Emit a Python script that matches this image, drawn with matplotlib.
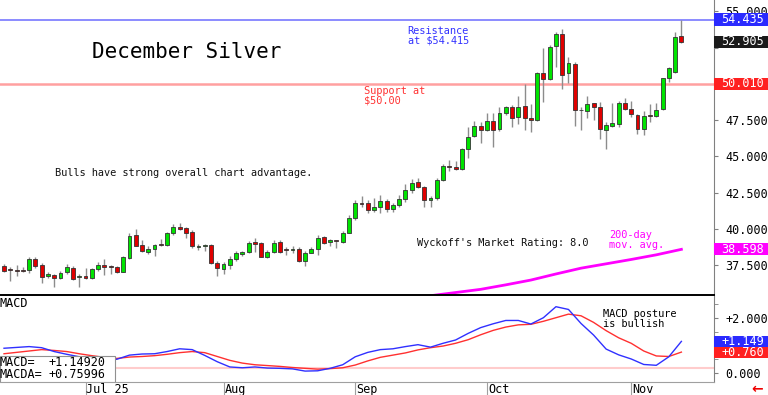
import matplotlib
matplotlib.use("Agg")
import matplotlib.pyplot as plt
import matplotlib.transforms as mtransforms
from matplotlib.patches import Rectangle
import numpy as np

plt.rcParams['font.family'] = ['DejaVu Sans Mono', 'DejaVu Sans']

#################################################################

## Data (daily bars mid-June .. Nov 13)

opens = [37.45, 37.25, 37.17, 37.17, 37.17, 37.95, 37.54, 36.76, 36.83, 36.65,
         37.01, 37.31, 36.67, 36.76, 36.65, 37.22, 37.52, 37.42, 37.38, 37.06,
         38.02, 39.59, 38.90, 38.44, 38.60, 38.96, 38.88, 39.70, 40.16, 40.07,
         39.79, 38.74, 38.84, 38.90, 37.68, 37.24, 37.54, 37.91, 38.30, 38.44,
         39.13, 39.06, 38.05, 38.44, 39.13, 38.62, 38.54, 38.60, 37.81, 38.37,
         38.60, 39.47, 39.10, 39.22, 39.13, 39.75, 40.78, 41.79, 41.82, 41.31,
         41.54, 41.95, 41.36, 41.64, 42.05, 42.69, 43.22, 42.92, 42.00, 42.16,
         43.38, 44.32, 44.30, 44.12, 45.50, 46.41, 47.13, 46.83, 47.45, 46.88,
         47.98, 48.39, 47.70, 48.48, 47.66, 47.52, 50.78, 50.32, 52.62, 53.45,
         50.74, 51.38, 48.18, 48.16, 48.67, 48.39, 46.85, 47.12, 47.24, 48.71,
         48.26, 47.86, 46.90, 47.83, 47.81, 48.28, 50.44, 50.85, 53.31]
highs = [37.57, 37.40, 37.52, 37.36, 38.09, 38.09, 37.63, 37.06, 36.90, 37.10,
         37.57, 37.45, 36.88, 37.29, 37.29, 37.70, 37.93, 37.52, 37.45, 38.16,
         39.70, 40.00, 39.22, 38.81, 38.94, 39.33, 39.81, 40.32, 40.39, 40.12,
         39.95, 38.94, 38.97, 38.94, 37.79, 37.70, 38.12, 38.48, 38.50, 39.17,
         39.36, 39.13, 38.55, 39.24, 39.24, 38.74, 38.83, 38.74, 38.51, 38.74,
         39.59, 39.52, 39.33, 39.24, 39.89, 40.97, 42.00, 42.30, 42.00, 42.12,
         42.34, 42.05, 41.77, 42.34, 43.10, 43.42, 43.49, 42.97, 42.28, 43.50,
         44.46, 44.78, 44.69, 45.56, 47.06, 47.45, 47.40, 47.98, 48.02, 48.44,
         48.48, 48.55, 49.17, 50.00, 48.62, 50.85, 52.50, 52.69, 53.61, 53.77,
         51.84, 51.54, 48.44, 49.17, 48.71, 48.78, 47.40, 48.71, 48.85, 49.01,
         48.85, 47.93, 48.14, 48.60, 48.67, 50.44, 51.20, 53.61, 54.435]
lows = [37.01, 36.44, 36.76, 37.01, 36.94, 37.33, 36.30, 36.62, 35.98, 36.53,
        36.92, 36.46, 36.03, 36.53, 36.53, 37.12, 36.81, 36.88, 36.94, 37.01,
        37.91, 38.81, 38.39, 38.26, 38.16, 38.81, 38.83, 39.56, 39.93, 39.40,
        38.67, 38.55, 38.51, 37.60, 36.76, 36.90, 37.24, 37.81, 38.12, 38.32,
        38.44, 38.05, 37.98, 38.37, 38.37, 38.21, 38.32, 37.74, 37.45, 38.32,
        38.21, 38.94, 38.83, 38.67, 39.06, 39.70, 40.62, 41.54, 41.08, 41.20,
        41.08, 41.20, 41.20, 41.54, 41.88, 42.46, 42.81, 41.50, 41.50, 42.00,
        43.33, 43.97, 44.07, 44.07, 44.88, 46.32, 45.95, 46.78, 45.68, 46.78,
        47.86, 47.01, 47.24, 46.80, 46.71, 47.45, 48.74, 50.28, 51.20, 49.63,
        50.09, 47.10, 46.83, 47.63, 47.52, 46.20, 45.50, 47.06, 47.06, 48.21,
        47.74, 46.55, 46.48, 47.41, 47.74, 48.21, 50.16, 50.74, 52.81]
closes = [37.12, 37.20, 37.08, 37.13, 37.95, 37.47, 36.71, 36.90, 36.65, 36.99,
          37.36, 36.55, 36.76, 36.65, 37.24, 37.50, 37.40, 37.38, 37.06, 38.07,
          39.54, 38.85, 38.48, 38.64, 38.90, 38.92, 39.72, 40.16, 40.02, 39.74,
          38.81, 38.85, 38.86, 37.66, 37.29, 37.59, 37.95, 38.32, 38.44, 39.01,
          38.99, 38.09, 38.44, 39.06, 38.44, 38.58, 38.56, 37.79, 38.37, 38.65,
          39.40, 39.01, 39.24, 39.18, 39.75, 40.78, 41.77, 41.75, 41.31, 41.54,
          41.95, 41.36, 41.66, 42.05, 42.69, 43.19, 42.88, 42.00, 42.16, 43.38,
          44.34, 44.28, 44.12, 45.50, 46.37, 47.10, 46.83, 47.45, 46.83, 47.98,
          48.39, 47.63, 48.39, 47.63, 47.52, 50.78, 50.32, 52.53, 53.45, 50.62,
          51.43, 48.21, 48.22, 48.62, 48.39, 46.88, 47.15, 47.29, 48.71, 48.26,
          47.91, 46.88, 47.81, 47.79, 48.21, 50.39, 51.08, 53.22, 52.905]

# 200-day moving average (only the visible part)
ma_idx = [68, 72, 76, 80, 84, 88, 92, 96, 100, 104, 108]
ma_vals = [35.40, 35.62, 35.84, 36.15, 36.48, 36.90, 37.30, 37.60, 37.90, 38.22, 38.598]

# MACD, every second bar
macd_idx = list(range(0, 109, 2))
macd_line = [0.90, 0.93, 0.96, 0.92, 0.78, 0.68, 0.59, 0.53, 0.47, 0.50,
             0.65, 0.69, 0.70, 0.78, 0.88, 0.85, 0.64, 0.41, 0.22, 0.19,
             0.22, 0.18, 0.17, 0.15, 0.07, 0.08, 0.17, 0.30, 0.59, 0.75,
             0.85, 0.88, 0.96, 1.03, 0.94, 1.08, 1.20, 1.44, 1.65, 1.79,
             1.91, 1.91, 1.78, 2.01, 2.41, 2.31, 1.80, 1.38, 0.87, 0.66,
             0.51, 0.31, 0.28, 0.59, 1.149]
macd_avg = [0.70, 0.75, 0.80, 0.85, 0.82, 0.78, 0.70, 0.63, 0.57, 0.53,
            0.58, 0.60, 0.63, 0.68, 0.74, 0.78, 0.74, 0.60, 0.46, 0.36,
            0.30, 0.27, 0.24, 0.20, 0.17, 0.14, 0.16, 0.19, 0.29, 0.44,
            0.57, 0.65, 0.73, 0.84, 0.92, 0.98, 1.08, 1.21, 1.39, 1.55,
            1.67, 1.75, 1.77, 1.88, 2.01, 2.14, 2.08, 1.84, 1.54, 1.28,
            1.08, 0.80, 0.62, 0.60, 0.76]

month_ticks = [13, 35, 56, 77, 100]
month_labels = ["Jul 25", "Aug", "Sep", "Oct", "Nov"]

price_ticks = [37.5, 40.0, 42.5, 45.0, 47.5, 50.0, 52.5, 55.0]
hidden_ticks = [50.0, 52.5]   # covered by the value tags on the original

resistance = 54.435
support = 50.010
last_close = 52.905
ma_last = 38.598
macd_last = 1.14920
macda_last = 0.75996
macd_ref = 0.17

################################################################

## Figure layout (pixel based, 768 x 395)

W, H = 768, 395
fig = plt.figure(figsize=(W / 100, H / 100), dpi=100)
fig.patch.set_facecolor('white')

ax = fig.add_axes([0, 100 / H, 714 / W, 295 / H])
ax2 = fig.add_axes([0, 13.3 / H, 714 / W, 86 / H])

xlim = (-0.64, 113.2)

# Candles
idx = np.arange(len(closes))
o = np.array(opens)
c = np.array(closes)
up = c >= o
ax.vlines(idx, lows, highs, color='#8c8c8c', lw=1, zorder=2)
body_lo = np.minimum(o, c)
body_h = np.maximum(np.abs(c - o), 0.05)
colors = np.where(up, '#00e400', '#e00000')
ax.bar(idx, body_h, bottom=body_lo, width=0.62, color=colors,
       edgecolor='#333333', linewidth=0.6, zorder=3)

# Support / resistance, moving average
ax.axhline(resistance, color='#7878ff', lw=1.2, zorder=1)
ax.axhline(support, color='#ffa0a0', lw=1.8, zorder=1)
ax.plot(ma_idx, ma_vals, color='#ff00ff', lw=2, zorder=2)

ax.set_xlim(*xlim)
ax.set_ylim(35.45, 55.79)
ax.set_xticks([])
ax.yaxis.tick_right()
ax.set_yticks(price_ticks)
ax.set_yticklabels(["" if t in hidden_ticks else "%.3f" % t for t in price_ticks])
ax.tick_params(axis='y', direction='out', length=3, color='#808080',
               pad=5, labelsize=8.5)
for s in ['left', 'top']:
    ax.spines[s].set_visible(False)
ax.spines['right'].set_color('#808080')
ax.spines['bottom'].set_color('black')
ax.spines['bottom'].set_linewidth(1.4)

# Text on price panel
ax.text(0.129, 0.824, "December Silver", fontsize=15, transform=ax.transAxes,
        va='center', ha='left')
ax.text(0.571, 0.878, "Resistance\nat $54.415", fontsize=7.4, color='#3333ff',
        transform=ax.transAxes, va='center', ha='left', linespacing=1.0)
ax.text(0.510, 0.675, "Support at\n$50.00", fontsize=7.4, color='#ff3333',
        transform=ax.transAxes, va='center', ha='left', linespacing=1.0)
ax.text(0.077, 0.414, "Bulls have strong overall chart advantage.", fontsize=7.4,
        color='#111111', transform=ax.transAxes, va='center', ha='left')
ax.text(0.584, 0.176, "Wyckoff's Market Rating: 8.0", fontsize=7.4,
        color='#111111', transform=ax.transAxes, va='center', ha='left')
ax.text(0.853, 0.185, "200-day\nmov. avg.", fontsize=7.4, color='#ff00ff',
        transform=ax.transAxes, va='center', ha='left', linespacing=1.0)

################################################################

## MACD panel

ax2.axhline(macd_ref, color='#ffcccc', lw=1.5, zorder=1)
ax2.plot(macd_idx, macd_avg, color='#ff3030', lw=1, zorder=2)
ax2.plot(macd_idx, macd_line, color='#3030ff', lw=1, zorder=3)
ax2.set_xlim(*xlim)
ax2.set_ylim(-0.316, 2.81)
ax2.yaxis.tick_right()
ax2.set_yticks([0, 2])
ax2.set_yticklabels(["0.000", "+2.000"])
ax2.set_yticks([0.5, 1.0, 1.5, 2.5], minor=True)
ax2.tick_params(axis='y', which='both', direction='out', length=3,
                color='#808080', pad=5, labelsize=8.5)
for s in ['left', 'top']:
    ax2.spines[s].set_visible(False)
ax2.spines['right'].set_color('#808080')
ax2.spines['bottom'].set_color('#a0a0a0')

# month separators and labels
ax2.set_xticks(month_ticks)
ax2.set_xticklabels([])
ax2.tick_params(axis='x', direction='out', length=9.5, color='#a0a0a0')
blend = mtransforms.blended_transform_factory(ax2.transData, ax2.transAxes)
for t, lab in zip(month_ticks, month_labels):
    ax2.text(t + 0.15, -0.085, lab, fontsize=8.5, transform=blend,
             va='center', ha='left', clip_on=False)

ax2.text(0.0, 0.915, "MACD", fontsize=8.5, transform=ax2.transAxes,
         va='center', ha='left')
ax2.text(0.845, 0.726, "MACD posture\nis bullish", fontsize=7.4,
         transform=ax2.transAxes, va='center', ha='left', linespacing=1.0)

# value box
ax2.add_patch(Rectangle((0, 0), 0.161, 0.30, transform=ax2.transAxes,
                        facecolor='white', edgecolor='#909090', lw=0.8, zorder=4))
ax2.text(0.0, 0.221, "MACD=", fontsize=8.5, transform=ax2.transAxes,
         va='center', ha='left', zorder=5)
ax2.text(0.068, 0.221, "%+.5f" % macd_last, fontsize=8.5, transform=ax2.transAxes,
         va='center', ha='left', zorder=5)
ax2.text(0.0, 0.086, "MACDA=", fontsize=8.5, transform=ax2.transAxes,
         va='center', ha='left', zorder=5)
ax2.text(0.068, 0.086, "%+.5f" % macda_last, fontsize=8.5, transform=ax2.transAxes,
         va='center', ha='left', zorder=5)

################################################################

## Coloured value tags on the right axis

def tag(axis, value, text, color, h=13):
    y = axis.transData.transform((0, value))[1]
    fig.patches.append(Rectangle((714 / W, (y - h / 2) / H), 54 / W, h / H,
                                 transform=fig.transFigure, facecolor=color,
                                 edgecolor='none', zorder=5))
    fig.text(721 / W, y / H, text, color='white', fontsize=8.5,
             va='center', ha='left', zorder=6)


tag(ax, resistance, "%.3f" % resistance, '#2a2aff', h=13)
tag(ax, last_close, "%.3f" % last_close, '#1a1a1a', h=12)
tag(ax, support, "%.3f" % support, '#ff2020', h=12)
tag(ax, ma_last, "%.3f" % ma_last, '#ff00ff', h=12)
tag(ax2, macd_last, "%+.3f" % macd_last, '#2a2aff', h=11)
tag(ax2, macda_last, "%+.3f" % macda_last, '#ff2020', h=11)

fig.text(0.993, 0.016, "\u2190", color='#ee0000', fontsize=10,
         fontweight='bold', ha='right', va='center', family='DejaVu Sans')

fig.savefig("out.png", dpi=100, facecolor='white')
